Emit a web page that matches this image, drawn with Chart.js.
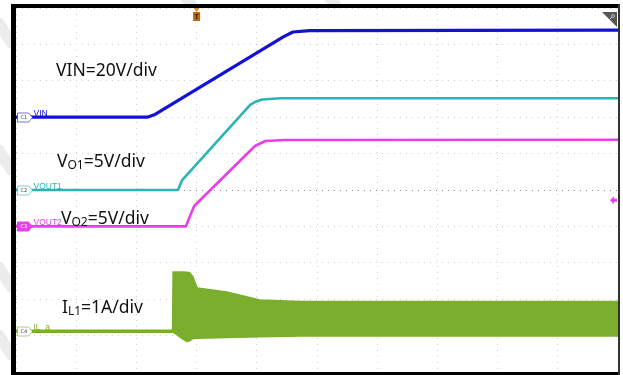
<!DOCTYPE html>
<html><head><meta charset="utf-8">
<script src="https://cdn.jsdelivr.net/npm/chart.js@4/dist/chart.umd.min.js"></script>
<style>html,body{margin:0;padding:0;background:#fff}#wrap{width:623px;height:375px;position:relative}</style>
</head><body><div id="wrap"><canvas id="c"></canvas></div>
<script>
// Horizontal axis: time in screen divisions (0..10)
const vinT = [0, 2.18, 2.31, 4.44, 4.60, 4.88, 10];
const vinV = [0, 0, 1.5, 44.1, 46.8, 47.6, 47.8];        // V (20 V/div)
const vo1T = [0, 2.69, 2.76, 3.89, 3.99, 4.09, 4.39, 10];
const vo1V = [0, 0, 1.37, 11.7, 12.16, 12.43, 12.6, 12.6]; // V (5 V/div)
const vo2T = [0, 2.82, 2.96, 3.97, 4.14, 4.47, 10];
const vo2V = [0, 0, 2.8, 11.04, 11.73, 11.87, 11.9];     // V (5 V/div)
const ilT   = [0, 2.60, 2.61, 2.66, 2.76, 2.84, 2.89, 2.94, 3.01, 3.50, 4.05, 4.72, 10];
const ilMax = [0.03, 0.03, 1.63, 1.63, 1.63, 1.62, 1.60, 1.49, 1.19, 1.08, 0.86, 0.82, 0.82]; // A (1 A/div)
const ilMin = [-0.03, -0.03, -0.03, -0.08, -0.20, -0.29, -0.26, -0.20, -0.19, -0.17, -0.15, -0.13, -0.13];
// darker core of the ripple band
const ilCoreT   = [3.05, 3.50, 4.05, 4.72, 10];
const ilCoreMax = [0.80, 0.70, 0.52, 0.46, 0.46];
const ilCoreMin = [0.02, 0.02, 0.0, -0.01, -0.01];

// channel settings (scale per division, ground offset in divisions)
const chScale  = {vin: 20, vo1: 5, vo2: 5, il: 1};
const chOffset = {vin: 7, vo1: 5, vo2: 4, il: 1.12};
const chColor  = {vin: '#1212d4', vo1: '#2cb4b4', vo2: '#e640e6', il: '#7aae2c', ilCore: '#72a427'};
const trigPos = 3.0;       // trigger time (div)
const trigLevelV = 3.6;    // trigger level on VOUT2 (V)

const toPts = (t, v, ch) => t.map((x, i) => ({x, y: chOffset[ch] + v[i] / chScale[ch]}));

const deco = {
  id: 'deco',
  beforeDraw(chart) {
    const c = chart.ctx, a = chart.chartArea;
    c.save();
    c.fillStyle = '#fff'; c.fillRect(0, 0, chart.width, chart.height);
    c.fillStyle = '#ececec';
    const stripes = [[178, -4], [322, -4], [-12, 18], [-12, 145], [-12, 262], [-12, 330]];
    stripes.forEach(([x, y]) => {
      c.beginPath(); c.moveTo(x, y); c.lineTo(x + 14, y); c.lineTo(x + 34, y + 30); c.lineTo(x + 20, y + 30); c.closePath(); c.fill();
    });
    c.fillStyle = '#fff'; c.fillRect(a.left, a.top, a.right - a.left, a.bottom - a.top);
    c.restore();
  },
  afterDatasetsDraw(chart) {
    const c = chart.ctx, a = chart.chartArea, ys = chart.scales.y, xs = chart.scales.x;
    c.save();
    const badges = [['vin', 'C1', 'VIN', false], ['vo1', 'C2', 'VOUT1', false], ['vo2', 'C3', 'VOUT2', true], ['il', 'C4', 'IL_a', false]];
    badges.forEach(([ch, tag, name, filled]) => {
      const y = Math.round(ys.getPixelForValue(chOffset[ch])) + 0.5;
      const x0 = a.left + 1.5;
      c.beginPath();
      c.moveTo(x0, y - 4.5); c.lineTo(x0 + 11, y - 4.5); c.lineTo(x0 + 15, y); c.lineTo(x0 + 11, y + 4.5); c.lineTo(x0, y + 4.5); c.closePath();
      c.fillStyle = filled ? chColor[ch] : '#ffffff';
      c.fill();
      c.strokeStyle = chColor[ch]; c.lineWidth = 1; c.globalAlpha = filled ? 1 : 0.6; c.stroke();
      c.globalAlpha = 1;
      c.fillStyle = filled ? '#fff' : '#444';
      c.font = '5px "DejaVu Sans"'; c.textBaseline = 'middle'; c.textAlign = 'left';
      c.fillText(tag, x0 + 3, y + 0.5);
      c.fillStyle = chColor[ch];
      c.font = '8.5px "Liberation Sans"'; c.textBaseline = 'alphabetic';
      c.fillText(name, x0 + 16, y - 1.5);
      c.beginPath(); c.arc(a.left - 0.5, y, 1.2, 0, Math.PI * 2); c.fill();
    });
    const tx = xs.getPixelForValue(trigPos);
    c.fillStyle = '#e08a20';
    c.beginPath(); c.moveTo(tx - 3, a.top); c.lineTo(tx + 3, a.top); c.lineTo(tx, a.top + 4); c.closePath(); c.fill();
    c.fillStyle = '#b86a10'; c.fillRect(tx - 3.5, a.top + 4, 7, 9);
    c.fillStyle = '#3a2000'; c.font = 'bold 7px "Liberation Sans"'; c.textAlign = 'center'; c.textBaseline = 'middle';
    c.fillText('T', tx, a.top + 8.8);
    const ly = ys.getPixelForValue(chOffset.vo2 + trigLevelV / chScale.vo2);
    c.fillStyle = chColor.vo2;
    c.beginPath(); c.moveTo(a.right - 8, ly); c.lineTo(a.right - 4, ly - 4); c.lineTo(a.right - 4, ly - 1.5); c.lineTo(a.right - 1, ly - 1.5);
    c.lineTo(a.right - 1, ly + 1.5); c.lineTo(a.right - 4, ly + 1.5); c.lineTo(a.right - 4, ly + 4); c.closePath(); c.fill();
    c.fillStyle = '#555';
    c.beginPath(); c.moveTo(a.right - 16, a.top + 4); c.lineTo(a.right - 1, a.top + 4); c.lineTo(a.right - 1, a.top + 19); c.closePath(); c.fill();
    c.strokeStyle = '#bbb'; c.lineWidth = 1;
    c.beginPath(); c.arc(a.right - 5, a.top + 8, 1.5, 0, Math.PI * 2); c.stroke();
    c.beginPath(); c.moveTo(a.right - 6, a.top + 9); c.lineTo(a.right - 9, a.top + 12); c.stroke();
    c.restore();
  },
  afterDraw(chart) {
    const c = chart.ctx, a = chart.chartArea;
    c.save();
    c.fillStyle = '#000';
    c.fillRect(a.left - 5, a.top - 4, a.right - a.left + 7, 4);
    c.fillRect(a.left - 5, a.top - 4, 5, a.bottom - a.top + 7);
    c.fillRect(a.left - 5, a.bottom, a.right - a.left + 7, 3);
    c.fillStyle = '#333';
    c.fillRect(a.right, a.top - 4, 2, a.bottom - a.top + 7);
    const F = '"Noto Sans", "Open Sans", sans-serif';
    const draw = (x, y, parts) => {
      let cx = x;
      c.textBaseline = 'alphabetic'; c.textAlign = 'left'; c.fillStyle = '#111';
      parts.forEach(([t, sub]) => {
        c.font = sub ? '12px ' + F : '17.5px ' + F;
        c.fillText(t, cx, sub ? y + 2 : y);
        cx += c.measureText(t).width;
      });
    };
    draw(56, 76, [['VIN=20V/div']]);
    draw(57, 167, [['V'], ['O1', 1], ['=5V/div']]);
    draw(61, 224, [['V'], ['O2', 1], ['=5V/div']]);
    draw(62, 313, [['I'], ['L1', 1], ['=1A/div']]);
    c.restore();
  }
};

const lineDs = (label, data, color, w) => ({
  label, data, borderColor: color, backgroundColor: color, borderWidth: w,
  pointRadius: 0, fill: false, tension: 0, borderJoinStyle: 'round'
});
const bandDs = (label, data, color, w, fill) => ({
  label, data, borderColor: color, backgroundColor: color, borderWidth: w,
  pointRadius: 0, tension: 0.2, fill
});

new Chart(document.getElementById('c'), {
  type: 'line',
  data: {
    datasets: [
      {label: 'IL max', data: toPts(ilT, ilMax, 'il'), borderColor: chColor.il, backgroundColor: chColor.il,
       borderWidth: 1.5, pointRadius: 0, tension: 0, fill: '+1'},
      {label: 'IL min', data: toPts(ilT, ilMin, 'il'), borderColor: chColor.il, backgroundColor: chColor.il,
       borderWidth: 1.5, pointRadius: 0, tension: 0, fill: false},
      bandDs('IL core max', toPts(ilCoreT, ilCoreMax, 'il'), 'rgba(0,0,0,0)', 0, {target: '+1', above: chColor.ilCore, below: chColor.ilCore}),
      bandDs('IL core min', toPts(ilCoreT, ilCoreMin, 'il'), 'rgba(0,0,0,0)', 0, false),
      lineDs('VOUT2', toPts(vo2T, vo2V, 'vo2'), chColor.vo2, 2.6),
      lineDs('VOUT1', toPts(vo1T, vo1V, 'vo1'), chColor.vo1, 2.6),
      lineDs('VIN', toPts(vinT, vinV, 'vin'), chColor.vin, 3.2)
    ]
  },
  options: {
    responsive: true, maintainAspectRatio: false, animation: false,
    layout: {padding: {left: 16, top: 8, right: 5, bottom: 3}},
    plugins: {legend: {display: false}, tooltip: {enabled: false}},
    scales: {
      x: {type: 'linear', min: 0, max: 10, afterFit: s => { s.height = 0; },
          ticks: {display: false, stepSize: 1}, border: {display: false, dash: [1, 5]},
          grid: {drawTicks: false, color: '#cdcdcd', lineWidth: 1}},
      y: {type: 'linear', min: 0, max: 10, afterFit: s => { s.width = 0; },
          ticks: {display: false, stepSize: 1}, border: {display: false, dash: [1, 5]},
          grid: {drawTicks: false, lineWidth: 1, color: ctx => ctx.tick && ctx.tick.value === 5 ? '#8a8a8a' : '#cdcdcd'}}
    }
  },
  plugins: [deco]
});
</script></body></html>
